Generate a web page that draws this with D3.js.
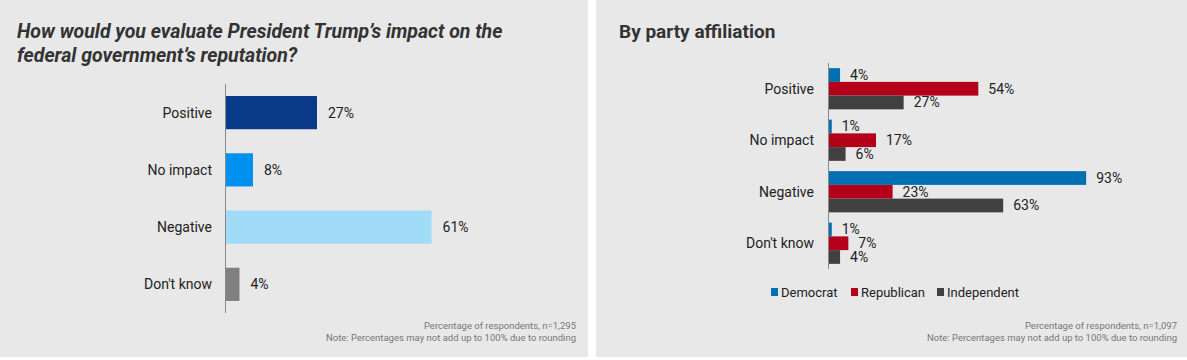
<!DOCTYPE html>
<html><head><meta charset="utf-8">
<script src="https://cdn.jsdelivr.net/npm/d3@7"></script>
<style>
html,body{margin:0;padding:0;background:#fff;}
svg{display:block;font-family:Roboto,"Noto Sans",sans-serif;}
</style></head>
<body>
<svg id="chart" width="1187" height="360"></svg>
<script>
const categories = ["Positive", "No impact", "Negative", "Don't know"];
const overallValues = [27, 8, 61, 4];
const overallColors = ["#0a3a8a", "#0091f0", "#a0dcf8", "#808080"];
const parties = ["Democrat", "Republican", "Independent"];
const democratValues = [4, 1, 93, 1];
const republicanValues = [54, 17, 23, 7];
const independentValues = [27, 6, 63, 4];
const partyColors = ["#0070b2", "#b5001a", "#404040"];
const leftTitle = ["How would you evaluate President Trump\u2019s impact on the", "federal government\u2019s reputation?"];
const rightTitle = "By party affiliation";
const leftNotes = ["Percentage of respondents, n=1,295", "Note: Percentages may not add up to 100% due to rounding"];
const rightNotes = ["Percentage of respondents, n=1,097", "Note: Percentages may not add up to 100% due to rounding"];

const svg = d3.select("#chart");

// panels
svg.append("rect").attr("x",0).attr("y",0).attr("width",588).attr("height",357).attr("fill","#e8e8e8");
svg.append("rect").attr("x",596).attr("y",0).attr("width",591).attr("height",357).attr("fill","#e8e8e8");

// ---------- Left chart ----------
const L = svg.append("g");
L.selectAll("text.title").data(leftTitle).join("text")
  .attr("x",17).attr("y",(d,i)=>38+i*24)
  .attr("font-size",19.5).attr("font-weight","bold").attr("font-style","italic")
  .attr("fill","#333").text(d=>d);

const yL = d3.scaleBand().domain(categories).range([84,313]).paddingInner(0.42).paddingOuter(0.21);
const xL = d3.scaleLinear().domain([0,100]).range([226,563]);

L.selectAll("rect.bar").data(categories).join("rect")
  .attr("x",xL(0)).attr("y",d=>yL(d)).attr("height",yL.bandwidth())
  .attr("width",(d,i)=>xL(overallValues[i])-xL(0))
  .attr("fill",(d,i)=>overallColors[i]);

L.append("line").attr("x1",225.5).attr("x2",225.5).attr("y1",84).attr("y2",313)
  .attr("stroke","#888").attr("stroke-width",1);

L.selectAll("text.cat").data(categories).join("text")
  .attr("x",212).attr("y",d=>yL(d)+yL.bandwidth()/2).attr("dy","0.35em")
  .attr("text-anchor","end").attr("font-size",14).attr("fill","#222").text(d=>d);

L.selectAll("text.val").data(categories).join("text")
  .attr("x",(d,i)=>xL(overallValues[i])+11).attr("y",d=>yL(d)+yL.bandwidth()/2).attr("dy","0.35em")
  .attr("font-size",14).attr("fill","#222").text((d,i)=>overallValues[i]+"%");

L.selectAll("text.note").data(leftNotes).join("text")
  .attr("x",576).attr("y",(d,i)=>329+i*12)
  .attr("text-anchor","end").attr("font-size",9.5).attr("fill","#777").text(d=>d);

// ---------- Right chart ----------
const R = svg.append("g");
R.append("text").attr("x",619).attr("y",38).attr("font-size",19).attr("font-weight","bold")
  .attr("fill","#333").text(rightTitle);

const yR = d3.scaleBand().domain(categories).range([63,269]).paddingInner(0.2).paddingOuter(0.1);
const yS = d3.scaleBand().domain(parties).range([0,yR.bandwidth()]);
const xR = d3.scaleLinear().domain([0,100]).range([829,1105.5]);
const seriesValues = [democratValues, republicanValues, independentValues];

const groups = R.selectAll("g.grp").data(categories).join("g")
  .attr("transform",d=>`translate(0,${yR(d)})`);
groups.each(function(cat,ci){
  const g = d3.select(this);
  g.selectAll("rect").data(parties).join("rect")
    .attr("x",xR(0)).attr("y",p=>yS(p)).attr("height",yS.bandwidth())
    .attr("width",(p,pi)=>xR(seriesValues[pi][ci])-xR(0))
    .attr("fill",(p,pi)=>partyColors[pi]);
  g.selectAll("text").data(parties).join("text")
    .attr("x",(p,pi)=>xR(seriesValues[pi][ci])+10)
    .attr("y",p=>yS(p)+yS.bandwidth()/2).attr("dy","0.35em")
    .attr("font-size",14).attr("fill","#222").text((p,pi)=>seriesValues[pi][ci]+"%");
});

R.append("line").attr("x1",828.5).attr("x2",828.5).attr("y1",63).attr("y2",269)
  .attr("stroke","#888").attr("stroke-width",1);

R.selectAll("text.cat").data(categories).join("text")
  .attr("x",814).attr("y",d=>yR(d)+yR.bandwidth()/2).attr("dy","0.35em")
  .attr("text-anchor","end").attr("font-size",14).attr("fill","#222").text(d=>d);

// legend
const legendX = [771, 851, 937];
const lg = R.selectAll("g.leg").data(parties).join("g")
  .attr("transform",(d,i)=>`translate(${legendX[i]},292)`);
lg.append("rect").attr("x",0).attr("y",-4).attr("width",7).attr("height",8)
  .attr("fill",(d,i)=>partyColors[i]);
lg.append("text").attr("x",10).attr("y",0).attr("dy","0.35em").attr("font-size",13)
  .attr("fill","#222").text(d=>d);

R.selectAll("text.note").data(rightNotes).join("text")
  .attr("x",1177).attr("y",(d,i)=>329+i*12)
  .attr("text-anchor","end").attr("font-size",9.5).attr("fill","#777").text(d=>d);
</script>
</body></html>
